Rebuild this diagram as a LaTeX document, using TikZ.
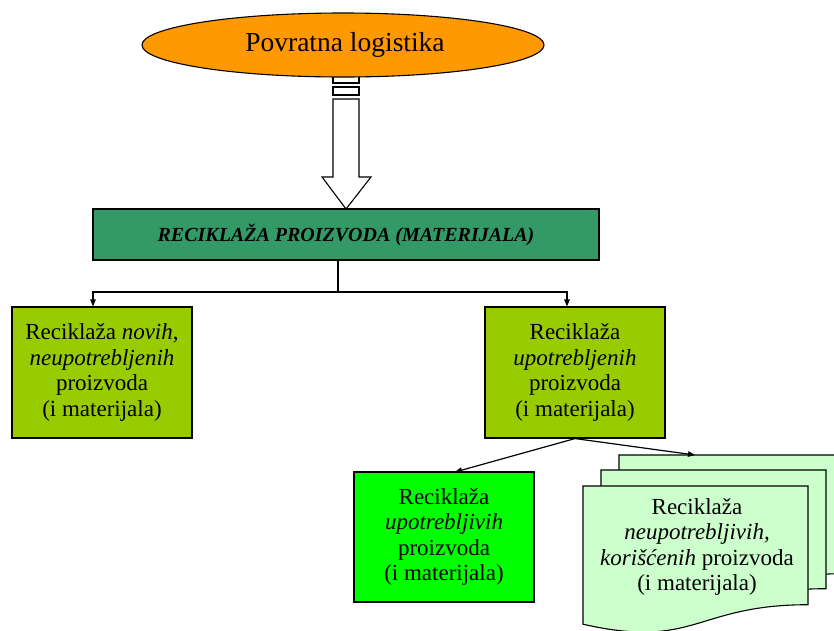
\documentclass[tikz,border=0pt]{standalone}
\usepackage{fontspec}
\setmainfont{Liberation Serif}
\usetikzlibrary{shapes.geometric,arrows.meta}
\definecolor{ellorange}{HTML}{FF9900}
\definecolor{topgreen}{HTML}{339966}
\definecolor{ygreen}{HTML}{99CC00}
\definecolor{brgreen}{HTML}{00FF00}
\definecolor{docgreen}{HTML}{CCFFCC}
\begin{document}
\begin{tikzpicture}[x=1pt,y=-1pt,
  outline/.style={draw=black,line width=1.1pt},
  boxfont/.style={font=\fontsize{23}{25.5}\selectfont},
  box/.style={outline,boxfont,minimum width=180pt,minimum height=131pt,align=center,inner sep=0pt},
  conn/.style={draw=black,line width=1.2pt,-{Triangle[length=7pt,width=5.5pt]}},
  docpage/.style={outline,fill=docgreen},
  blockarrow/.style={outline,fill=white}]
\useasboundingbox (0,0) rectangle (834,630);
\clip (0,0) rectangle (834,630);
% block arrow
\draw[blockarrow] (333,74) rectangle (359,83);
\draw[blockarrow] (333,87) rectangle (359,95);
\draw[blockarrow] (333,99) -- (359,99) -- (359,177) -- (371,177) -- (346,209) -- (322,177) -- (333,177) -- cycle;
% ellipse
\node[ellipse,outline,fill=ellorange,minimum width=402pt,minimum height=64pt,inner sep=0pt,
  font=\fontsize{27.5}{31}\selectfont] (pl) at (343,45) {\hspace*{4pt}Povratna logistika};
% top box
\node[outline,fill=topgreen,minimum width=506pt,minimum height=51pt,inner sep=0pt,
  font=\fontsize{20}{24}\selectfont\bfseries\itshape] (top) at (346,234.5) {RECIKLAŽA PROIZVODA (MATERIJALA)};
% second row
\node[box,fill=ygreen] (left) at (102,372.5) {Reciklaža \textit{novih},\\\textit{neupotrebljenih}\\proizvoda\\(i materijala)};
\node[box,fill=ygreen] (right) at (575,372.5) {Reciklaža\\\textit{upotrebljenih}\\proizvoda\\(i materijala)};
% third row
\node[box,fill=brgreen,minimum height=130pt] (green) at (444,537) {Reciklaža\\\textit{upotrebljivih}\\proizvoda\\(i materijala)};
% document stack
\foreach \dx/\dy in {36/-31, 18/-16, 0/0}{
  \begin{scope}[shift={(583+\dx,486+\dy)}]
    \draw[docpage] (0,0) -- (225,0) -- (225,118.7) .. controls (112.5,118.7) and (112.5,163.8) .. (0,138.2) -- cycle;
  \end{scope}
}
\node[align=center,inner sep=0pt,boxfont] (doc) at (697,547) {Reciklaža\\\textit{neupotrebljivih,}\\\textit{korišćenih} proizvoda\\(i materijala)};
% connectors
\coordinate (jm) at (338,292);
\coordinate (jl) at (93,292);
\coordinate (jr) at (567,292);
\coordinate (gtop) at (455,472);
\coordinate (dtop) at (695,455);
\draw[line width=1.2pt] (top.south -| jm) -- (jm);
\draw[conn] (jm) -- (jl) -- (jl |- left.north);
\draw[conn] (jm) -- (jr) -- (jr |- right.north);
\draw[conn] (right.south) -- (gtop);
\draw[conn] (right.south) -- (dtop);
\end{tikzpicture}
\end{document}
